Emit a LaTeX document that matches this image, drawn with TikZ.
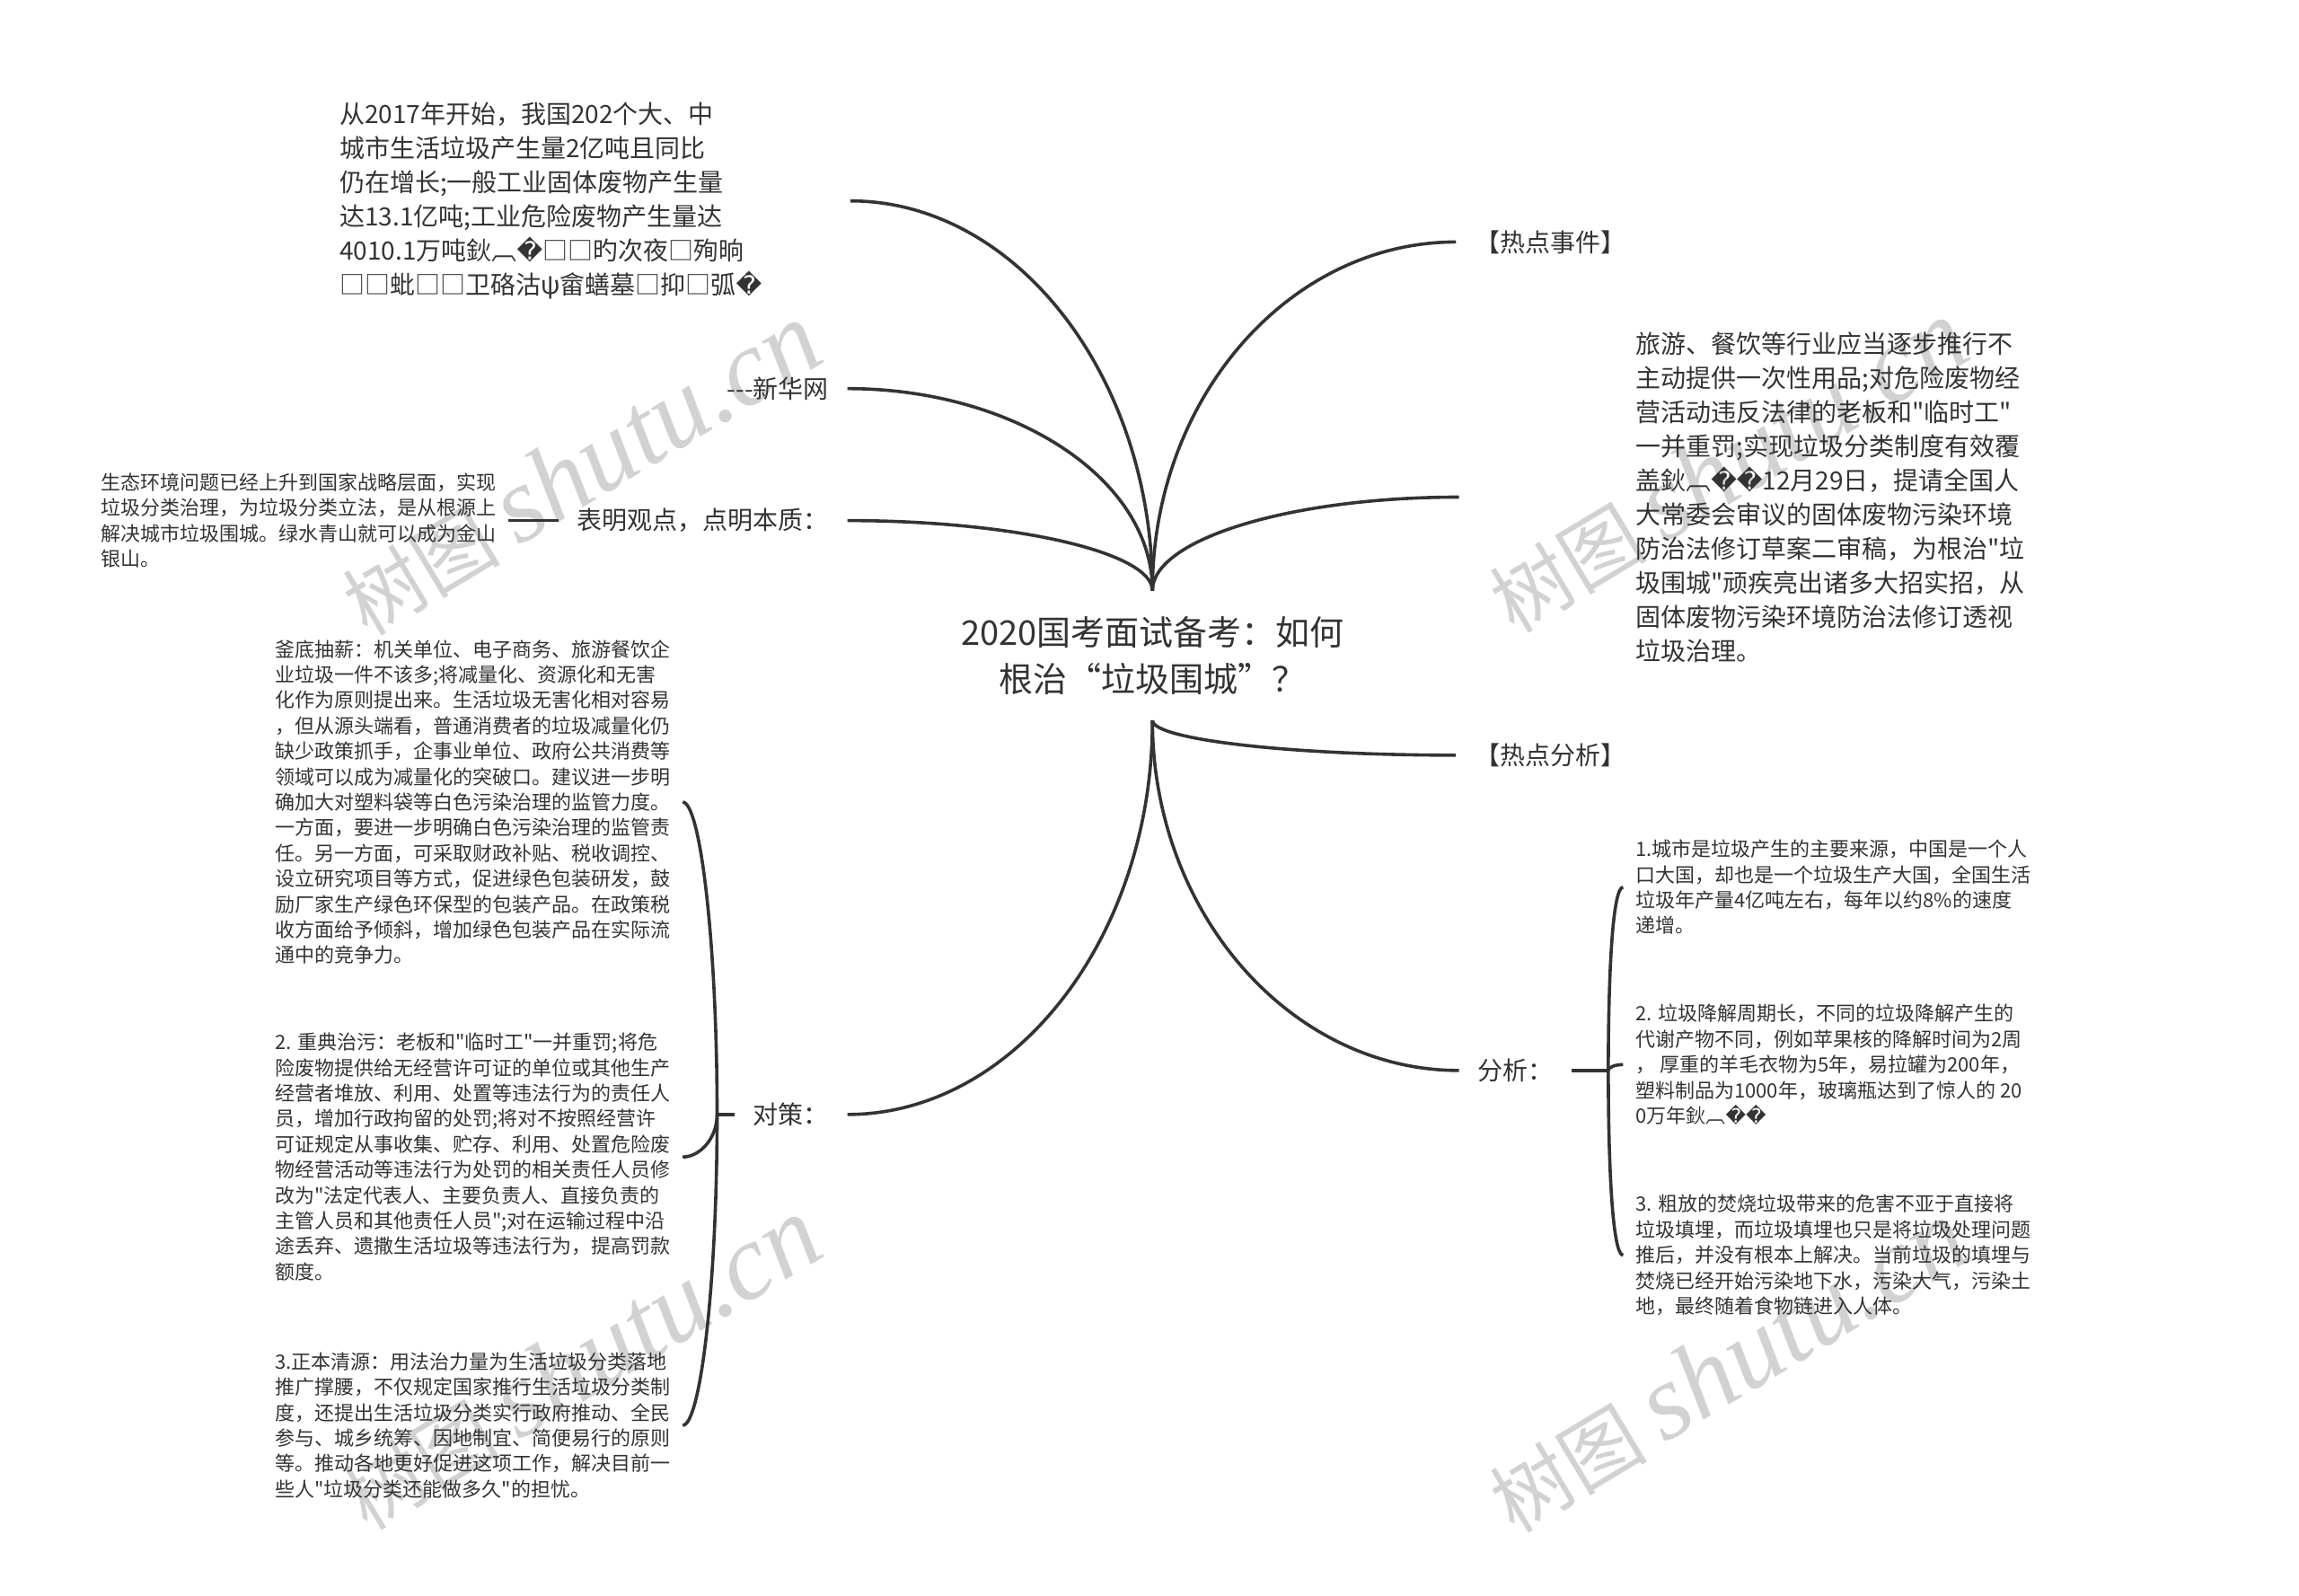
\documentclass[tikz,border=0pt]{standalone}
\usepackage{fontspec}
\setmainfont{Noto Sans CJK SC}[Ligatures=TeXOff]
\newfontfamily\repfont{DejaVu Sans}
\newfontfamily\wmfont{Liberation Serif}
\usepackage{tikz}
\usetikzlibrary{positioning}
\definecolor{ink}{HTML}{333333}
\definecolor{wm}{HTML}{D2D2D2}
\newcommand{\rep}{{\repfont\char"FFFD}}
\tikzset{
	root/.style={align=center,inner xsep=4pt,inner ysep=7pt,text=ink,font=\fontsize{9.5pt}{12.9pt}\selectfont},
	lab/.style={inner xsep=5pt,inner ysep=2pt,text=ink,font=\fontsize{7pt}{9pt}\selectfont},
	big/.style={align=left,inner ysep=2pt,text=ink,font=\fontsize{7pt}{9.5pt}\selectfont},
	leaf/.style={align=left,inner xsep=3.3pt,inner ysep=2pt,text=ink,font=\fontsize{5.5pt}{7.1pt}\selectfont},
	br/.style={draw=ink,line width=0.9pt},
	wmark/.style={text=wm,rotate=31,inner sep=0pt}
}

\begin{document}
\begin{tikzpicture}[x=0.4082pt,y=-0.4082pt]
\useasboundingbox (0,0) rectangle (1568,1088);
\node[wmark] (wm1) at (396,320) {\fontsize{22pt}{22pt}\selectfont 树图 {\wmfont\itshape\fontsize{30pt}{30pt}\selectfont shutu.cn}};
\node[wmark] (wm2) at (1178,318) {\fontsize{22pt}{22pt}\selectfont 树图 {\wmfont\itshape\fontsize{30pt}{30pt}\selectfont shutu.cn}};
\node[wmark] (wm3) at (396,930) {\fontsize{22pt}{22pt}\selectfont 树图 {\wmfont\itshape\fontsize{30pt}{30pt}\selectfont shutu.cn}};
\node[wmark] (wm4) at (1178,932) {\fontsize{22pt}{22pt}\selectfont 树图 {\wmfont\itshape\fontsize{30pt}{30pt}\selectfont shutu.cn}};

\node[root] (root) at (786,447) {2020国考面试备考：如何\\根治“垃圾围城”？};

\node[big,anchor=east,inner xsep=34pt,text width=108pt] (news) at (580,137) {从2017年开始，我国202个大、中\\
城市生活垃圾产生量2亿吨且同比\\
仍在增长;一般工业固体废物产生量\\
达13.1亿吨;工业危险废物产生量达\\
4010.1万吨鈥︹\rep□□旳次夜□殉晌\\
□□蚍□□卫硌沽ψ畲蟮墓□抑□弧\rep};
\node[lab,anchor=east] (xinhua) at (578,265) {---新华网};
\node[lab,anchor=east] (view) at (578,355) {表明观点，点明本质：};
\node[leaf,left=14pt of view] (gist) {生态环境问题已经上升到国家战略层面，实现\\
垃圾分类治理，为垃圾分类立法，是从根源上\\
解决城市垃圾围城。绿水青山就可以成为金山\\
银山。};
\node[lab,anchor=east] (plan) at (578,760) {对策：};
\node[leaf,anchor=west] (cut) at (179,547) {釜底抽薪：机关单位、电子商务、旅游餐饮企\\
业垃圾一件不该多;将减量化、资源化和无害\\
化作为原则提出来。生活垃圾无害化相对容易\\
，但从源头端看，普通消费者的垃圾减量化仍\\
缺少政策抓手，企事业单位、政府公共消费等\\
领域可以成为减量化的突破口。建议进一步明\\
确加大对塑料袋等白色污染治理的监管力度。\\
一方面，要进一步明确白色污染治理的监管责\\
任。另一方面，可采取财政补贴、税收调控、\\
设立研究项目等方式，促进绿色包装研发，鼓\\
励厂家生产绿色环保型的包装产品。在政策税\\
收方面给予倾斜，增加绿色包装产品在实际流\\
通中的竞争力。};
\node[leaf,anchor=west] (punish) at (179,789) {2. 重典治污：老板和"临时工"一并重罚;将危\\
险废物提供给无经营许可证的单位或其他生产\\
经营者堆放、利用、处置等违法行为的责任人\\
员，增加行政拘留的处罚;将对不按照经营许\\
可证规定从事收集、贮存、利用、处置危险废\\
物经营活动等违法行为处罚的相关责任人员修\\
改为"法定代表人、主要负责人、直接负责的\\
主管人员和其他责任人员";对在运输过程中沿\\
途丢弃、遗撒生活垃圾等违法行为，提高罚款\\
额度。};
\node[leaf,anchor=west] (source) at (179,972) {3.正本清源：用法治力量为生活垃圾分类落地\\
推广撑腰，不仅规定国家推行生活垃圾分类制\\
度，还提出生活垃圾分类实行政府推动、全民\\
参与、城乡统筹、因地制宜、简便易行的原则\\
等。推动各地更好促进这项工作，解决目前一\\
些人"垃圾分类还能做多久"的担忧。};

\node[lab,anchor=west] (event) at (993,165) {【热点事件】};
\node[big,anchor=west,inner xsep=49pt] (travel) at (995,339) {旅游、餐饮等行业应当逐步推行不\\
主动提供一次性用品;对危险废物经\\
营活动违反法律的老板和"临时工"\\
一并重罚;实现垃圾分类制度有效覆\\
盖鈥︹\rep\rep12月29日，提请全国人\\
大常委会审议的固体废物污染环境\\
防治法修订草案二审稿，为根治"垃\\
圾围城"顽疾亮出诸多大招实招，从\\
固体废物污染环境防治法修订透视\\
垃圾治理。};
\node[lab,anchor=west] (focus) at (993,515) {【热点分析】};
\node[lab,anchor=west] (analysis) at (995,730) {分析：};
\node[leaf,anchor=west] (city) at (1107,605) {1.城市是垃圾产生的主要来源，中国是一个人\\
口大国，却也是一个垃圾生产大国，全国生活\\
垃圾年产量4亿吨左右，每年以约8\%的速度\\
递增。};
\node[leaf,anchor=west] (decay) at (1107,726) {2. 垃圾降解周期长，不同的垃圾降解产生的\\
代谢产物不同，例如苹果核的降解时间为2周\\
，\ 厚重的羊毛衣物为5年，易拉罐为200年，\\
塑料制品为1000年，玻璃瓶达到了惊人的 20\\
0万年鈥︹\rep\rep};
\node[leaf,anchor=west] (burn) at (1107,856) {3. 粗放的焚烧垃圾带来的危害不亚于直接将\\
垃圾填埋，而垃圾填埋也只是将垃圾处理问题\\
推后，并没有根本上解决。当前垃圾的填埋与\\
焚烧已经开始污染地下水，污染大气，污染土\\
地，最终随着食物链进入人体。};

\draw[br] (root.north) .. controls +(0,-146) and +(113,0) .. (news.east);
\draw[br] (root.north) .. controls +(0,-76) and +(114,0) .. (xinhua.east);
\draw[br] (root.north) .. controls +(0,-26) and +(114,0) .. (view.east);
\draw[br] (root.south) .. controls +(0,148) and +(114,0) .. (plan.east);
\draw[br] (root.north) .. controls +(0,-131) and +(-114,0) .. (event.west);
\draw[br] (root.north) .. controls +(0,-35) and +(-115,0) .. (travel.west);
\draw[br] (root.south) .. controls +(0,13) and +(-114,0) .. (focus.west);
\draw[br] (root.south) .. controls +(0,131) and +(-115,0) .. (analysis.west);

\draw[br] (view.west) -- (gist.east);
\draw[br] (plan.west) -- ++(-12,0) coordinate (planfork);
\draw[br] (planfork) .. controls +(0,-117) and +(12,0) .. (cut.east);
\draw[br] (planfork) .. controls +(0,16) and +(12,0) .. (punish.east);
\draw[br] (planfork) .. controls +(0,117) and +(12,0) .. (source.east);
\draw[br] (analysis.east) -- ++(25,0) coordinate (anafork);
\draw[br] (anafork) .. controls +(0,-69) and +(-7,0) .. (city.west);
\draw[br] (anafork) .. controls +(0,-2) and +(-6,0) .. (decay.west);
\draw[br] (anafork) .. controls +(0,69) and +(-7,0) .. (burn.west);
\end{tikzpicture}
\end{document}
